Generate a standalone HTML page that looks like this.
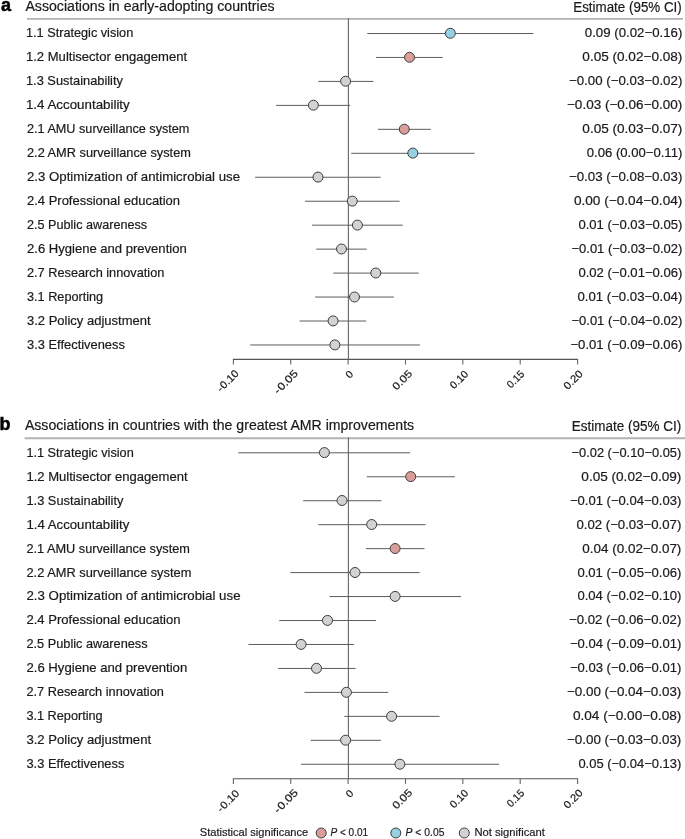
<!DOCTYPE html>
<html><head><meta charset="utf-8"><style>
html,body{margin:0;padding:0;background:#fff;}
body{width:685px;height:839px;overflow:hidden;}
svg{display:block;will-change:transform;}
text{font-family:"Liberation Sans",sans-serif;fill:#1a1a1a;stroke:#1a1a1a;stroke-width:0.2px;}
.pl{font-size:18px;font-weight:bold;fill:#000;stroke:#000;stroke-width:0.5px;}
.ti{font-size:14px;}
.es{font-size:14px;}
.rl{font-size:12.7px;}
.tk{font-size:10.5px;}
.lg{font-size:11.4px;}
</style></head><body>
<svg width="685" height="839" viewBox="0 0 685 839">
<text x="1.0" y="10.9" class="pl">a</text>
<text id="atitle" x="25.40" y="11.0" class="ti" textLength="249.21" lengthAdjust="spacingAndGlyphs">Associations in early-adopting countries</text>
<text id="aest" x="573.24" y="11.7" class="es" textLength="108.54" lengthAdjust="spacingAndGlyphs">Estimate (95% CI)</text>
<line x1="27.0" y1="18.9" x2="683.0" y2="18.9" stroke="#b2b2b2" stroke-width="1.9"/>
<line x1="348.4" y1="18.3" x2="348.4" y2="359.4" stroke="#666" stroke-width="1.1"/>
<line x1="232.9" y1="359.4" x2="578.1" y2="359.4" stroke="#555" stroke-width="1.1"/>
<line x1="233.4" y1="359.4" x2="233.4" y2="364.6" stroke="#666" stroke-width="1.1"/>
<text id="atk0" class="tk" text-anchor="end" textLength="26.13" lengthAdjust="spacingAndGlyphs" transform="translate(239.37,374.20) rotate(-45)"><tspan>-</tspan><tspan dx="0.8">0.10</tspan></text>
<line x1="290.7" y1="359.4" x2="290.7" y2="364.6" stroke="#666" stroke-width="1.1"/>
<text id="atk1" class="tk" text-anchor="end" textLength="29.11" lengthAdjust="spacingAndGlyphs" transform="translate(298.58,374.25) rotate(-45)"><tspan>-</tspan><tspan dx="0.8">0.05</tspan></text>
<line x1="348.1" y1="359.4" x2="348.1" y2="364.6" stroke="#666" stroke-width="1.1"/>
<text id="atk2" class="tk" text-anchor="end" textLength="5.84" lengthAdjust="spacingAndGlyphs" transform="translate(353.75,374.85) rotate(-45)">0</text>
<line x1="405.5" y1="359.4" x2="405.5" y2="364.6" stroke="#666" stroke-width="1.1"/>
<text id="atk3" class="tk" text-anchor="end" textLength="23.30" lengthAdjust="spacingAndGlyphs" transform="translate(412.92,374.25) rotate(-45)">0.05</text>
<line x1="462.8" y1="359.4" x2="462.8" y2="364.6" stroke="#666" stroke-width="1.1"/>
<text id="atk4" class="tk" text-anchor="end" textLength="21.01" lengthAdjust="spacingAndGlyphs" transform="translate(468.88,374.65) rotate(-45)">0.10</text>
<line x1="520.2" y1="359.4" x2="520.2" y2="364.6" stroke="#666" stroke-width="1.1"/>
<text id="atk5" class="tk" text-anchor="end" textLength="19.82" lengthAdjust="spacingAndGlyphs" transform="translate(525.10,374.70) rotate(-45)">0.15</text>
<line x1="577.6" y1="359.4" x2="577.6" y2="364.6" stroke="#666" stroke-width="1.1"/>
<text id="atk6" class="tk" text-anchor="end" textLength="22.23" lengthAdjust="spacingAndGlyphs" transform="translate(583.46,374.50) rotate(-45)">0.20</text>
<text id="alab0" x="26.00" y="37.3" class="rl" textLength="107.21" lengthAdjust="spacingAndGlyphs">1.1 Strategic vision</text>
<text id="anum0" x="584.84" y="37.3" class="rl" textLength="97.50" lengthAdjust="spacingAndGlyphs">0.09 (0.02−0.16)</text>
<line x1="367.3" y1="33.50" x2="533.4" y2="33.50" stroke="#5c5c5c" stroke-width="1.0"/>
<circle cx="450.3" cy="33.3" r="5.0" fill="#96d0e1" stroke="#3c3c3c" stroke-width="1"/>
<text id="alab1" x="25.97" y="61.3" class="rl" textLength="161.10" lengthAdjust="spacingAndGlyphs">1.2 Multisector engagement</text>
<text id="anum1" x="582.34" y="61.3" class="rl" textLength="100.01" lengthAdjust="spacingAndGlyphs">0.05 (0.02−0.08)</text>
<line x1="376.0" y1="57.46" x2="442.7" y2="57.46" stroke="#5c5c5c" stroke-width="1.0"/>
<circle cx="409.5" cy="57.3" r="5.0" fill="#da9e9a" stroke="#3c3c3c" stroke-width="1"/>
<text id="alab2" x="25.99" y="85.2" class="rl" textLength="96.93" lengthAdjust="spacingAndGlyphs">1.3 Sustainability</text>
<text id="anum2" x="568.98" y="85.2" class="rl" textLength="113.36" lengthAdjust="spacingAndGlyphs">−0.00 (−0.03−0.02)</text>
<line x1="318.3" y1="81.42" x2="373.4" y2="81.42" stroke="#5c5c5c" stroke-width="1.0"/>
<circle cx="345.6" cy="81.2" r="5.0" fill="#d2d2d2" stroke="#3c3c3c" stroke-width="1"/>
<text id="alab3" x="25.95" y="109.2" class="rl" textLength="103.79" lengthAdjust="spacingAndGlyphs">1.4 Accountability</text>
<text id="anum3" x="566.97" y="109.2" class="rl" textLength="115.38" lengthAdjust="spacingAndGlyphs">−0.03 (−0.06−0.00)</text>
<line x1="276.1" y1="105.38" x2="350.2" y2="105.38" stroke="#5c5c5c" stroke-width="1.0"/>
<circle cx="313.4" cy="105.2" r="5.0" fill="#d2d2d2" stroke="#3c3c3c" stroke-width="1"/>
<text id="alab4" x="27.00" y="133.2" class="rl" textLength="162.39" lengthAdjust="spacingAndGlyphs">2.1 AMU surveillance system</text>
<text id="anum4" x="582.34" y="133.2" class="rl" textLength="100.01" lengthAdjust="spacingAndGlyphs">0.05 (0.03−0.07)</text>
<line x1="378.0" y1="129.34" x2="430.9" y2="129.34" stroke="#5c5c5c" stroke-width="1.0"/>
<circle cx="404.3" cy="129.2" r="5.0" fill="#da9e9a" stroke="#3c3c3c" stroke-width="1"/>
<text id="alab5" x="27.00" y="157.1" class="rl" textLength="163.90" lengthAdjust="spacingAndGlyphs">2.2 AMR surveillance system</text>
<text id="anum5" x="586.78" y="157.1" class="rl" textLength="95.55" lengthAdjust="spacingAndGlyphs">0.06 (0.00−0.11)</text>
<line x1="351.2" y1="153.30" x2="474.6" y2="153.30" stroke="#5c5c5c" stroke-width="1.0"/>
<circle cx="412.8" cy="153.1" r="5.0" fill="#96d0e1" stroke="#3c3c3c" stroke-width="1"/>
<text id="alab6" x="27.00" y="181.1" class="rl" textLength="213.04" lengthAdjust="spacingAndGlyphs">2.3 Optimization of antimicrobial use</text>
<text id="anum6" x="568.98" y="181.1" class="rl" textLength="113.36" lengthAdjust="spacingAndGlyphs">−0.03 (−0.08−0.03)</text>
<line x1="255.1" y1="177.26" x2="380.6" y2="177.26" stroke="#5c5c5c" stroke-width="1.0"/>
<circle cx="318.0" cy="177.1" r="5.0" fill="#d2d2d2" stroke="#3c3c3c" stroke-width="1"/>
<text id="alab7" x="27.00" y="205.1" class="rl" textLength="153.05" lengthAdjust="spacingAndGlyphs">2.4 Professional education</text>
<text id="anum7" x="573.92" y="205.1" class="rl" textLength="108.44" lengthAdjust="spacingAndGlyphs">0.00 (−0.04−0.04)</text>
<line x1="305.0" y1="201.22" x2="399.6" y2="201.22" stroke="#5c5c5c" stroke-width="1.0"/>
<circle cx="352.3" cy="201.1" r="5.0" fill="#d2d2d2" stroke="#3c3c3c" stroke-width="1"/>
<text id="alab8" x="27.00" y="229.1" class="rl" textLength="120.11" lengthAdjust="spacingAndGlyphs">2.5 Public awareness</text>
<text id="anum8" x="578.42" y="229.1" class="rl" textLength="103.91" lengthAdjust="spacingAndGlyphs">0.01 (−0.03−0.05)</text>
<line x1="312.1" y1="225.18" x2="402.8" y2="225.18" stroke="#5c5c5c" stroke-width="1.0"/>
<circle cx="357.4" cy="225.1" r="5.0" fill="#d2d2d2" stroke="#3c3c3c" stroke-width="1"/>
<text id="alab9" x="27.00" y="253.0" class="rl" textLength="159.69" lengthAdjust="spacingAndGlyphs">2.6 Hygiene and prevention</text>
<text id="anum9" x="571.49" y="253.0" class="rl" textLength="110.83" lengthAdjust="spacingAndGlyphs">−0.01 (−0.03−0.02)</text>
<line x1="316.2" y1="249.14" x2="366.8" y2="249.14" stroke="#5c5c5c" stroke-width="1.0"/>
<circle cx="341.5" cy="249.0" r="5.0" fill="#d2d2d2" stroke="#3c3c3c" stroke-width="1"/>
<text id="alab10" x="27.00" y="277.0" class="rl" textLength="137.35" lengthAdjust="spacingAndGlyphs">2.7 Research innovation</text>
<text id="anum10" x="578.42" y="277.0" class="rl" textLength="103.91" lengthAdjust="spacingAndGlyphs">0.02 (−0.01−0.06)</text>
<line x1="333.3" y1="273.10" x2="418.7" y2="273.10" stroke="#5c5c5c" stroke-width="1.0"/>
<circle cx="375.8" cy="273.0" r="5.0" fill="#d2d2d2" stroke="#3c3c3c" stroke-width="1"/>
<text id="alab11" x="27.00" y="301.0" class="rl" textLength="76.19" lengthAdjust="spacingAndGlyphs">3.1 Reporting</text>
<text id="anum11" x="577.42" y="301.0" class="rl" textLength="104.91" lengthAdjust="spacingAndGlyphs">0.01 (−0.03−0.04)</text>
<line x1="315.2" y1="297.06" x2="393.9" y2="297.06" stroke="#5c5c5c" stroke-width="1.0"/>
<circle cx="354.5" cy="297.0" r="5.0" fill="#d2d2d2" stroke="#3c3c3c" stroke-width="1"/>
<text id="alab12" x="27.00" y="324.9" class="rl" textLength="123.59" lengthAdjust="spacingAndGlyphs">3.2 Policy adjustment</text>
<text id="anum12" x="571.49" y="324.9" class="rl" textLength="110.83" lengthAdjust="spacingAndGlyphs">−0.01 (−0.04−0.02)</text>
<line x1="299.6" y1="321.02" x2="366.1" y2="321.02" stroke="#5c5c5c" stroke-width="1.0"/>
<circle cx="333.1" cy="320.9" r="5.0" fill="#d2d2d2" stroke="#3c3c3c" stroke-width="1"/>
<text id="alab13" x="27.00" y="348.9" class="rl" textLength="97.90" lengthAdjust="spacingAndGlyphs">3.3 Effectiveness</text>
<text id="anum13" x="570.48" y="348.9" class="rl" textLength="111.84" lengthAdjust="spacingAndGlyphs">−0.01 (−0.09−0.06)</text>
<line x1="250.3" y1="344.98" x2="419.9" y2="344.98" stroke="#5c5c5c" stroke-width="1.0"/>
<circle cx="334.9" cy="344.9" r="5.0" fill="#d2d2d2" stroke="#3c3c3c" stroke-width="1"/>
<text x="-0.6" y="429.6" class="pl">b</text>
<text id="btitle" x="24.90" y="430.3" class="ti" textLength="389.24" lengthAdjust="spacingAndGlyphs">Associations in countries with the greatest AMR improvements</text>
<text id="best" x="571.73" y="431.0" class="es" textLength="109.54" lengthAdjust="spacingAndGlyphs">Estimate (95% CI)</text>
<line x1="24.6" y1="438.2" x2="685.5" y2="438.2" stroke="#b2b2b2" stroke-width="1.9"/>
<line x1="348.4" y1="437.6" x2="348.4" y2="778.7" stroke="#666" stroke-width="1.1"/>
<line x1="232.9" y1="778.7" x2="578.1" y2="778.7" stroke="#555" stroke-width="1.1"/>
<line x1="233.4" y1="778.7" x2="233.4" y2="783.9" stroke="#666" stroke-width="1.1"/>
<text id="btk0" class="tk" text-anchor="end" textLength="26.98" lengthAdjust="spacingAndGlyphs" transform="translate(240.12,794.05) rotate(-45)"><tspan>-</tspan><tspan dx="0.8">0.10</tspan></text>
<line x1="290.7" y1="778.7" x2="290.7" y2="783.9" stroke="#666" stroke-width="1.1"/>
<text id="btk1" class="tk" text-anchor="end" textLength="29.18" lengthAdjust="spacingAndGlyphs" transform="translate(298.58,793.35) rotate(-45)"><tspan>-</tspan><tspan dx="0.8">0.05</tspan></text>
<line x1="348.1" y1="778.7" x2="348.1" y2="783.9" stroke="#666" stroke-width="1.1"/>
<text id="btk2" class="tk" text-anchor="end" textLength="5.84" lengthAdjust="spacingAndGlyphs" transform="translate(354.00,794.20) rotate(-45)">0</text>
<line x1="405.5" y1="778.7" x2="405.5" y2="783.9" stroke="#666" stroke-width="1.1"/>
<text id="btk3" class="tk" text-anchor="end" textLength="23.30" lengthAdjust="spacingAndGlyphs" transform="translate(412.92,793.35) rotate(-45)">0.05</text>
<line x1="462.8" y1="778.7" x2="462.8" y2="783.9" stroke="#666" stroke-width="1.1"/>
<text id="btk4" class="tk" text-anchor="end" textLength="21.05" lengthAdjust="spacingAndGlyphs" transform="translate(468.88,793.75) rotate(-45)">0.10</text>
<line x1="520.2" y1="778.7" x2="520.2" y2="783.9" stroke="#666" stroke-width="1.1"/>
<text id="btk5" class="tk" text-anchor="end" textLength="19.82" lengthAdjust="spacingAndGlyphs" transform="translate(525.10,793.80) rotate(-45)">0.15</text>
<line x1="577.6" y1="778.7" x2="577.6" y2="783.9" stroke="#666" stroke-width="1.1"/>
<text id="btk6" class="tk" text-anchor="end" textLength="22.13" lengthAdjust="spacingAndGlyphs" transform="translate(583.46,793.60) rotate(-45)">0.20</text>
<text id="blab0" x="26.45" y="456.6" class="rl" textLength="107.26" lengthAdjust="spacingAndGlyphs">1.1 Strategic vision</text>
<text id="bnum0" x="571.49" y="456.6" class="rl" textLength="109.82" lengthAdjust="spacingAndGlyphs">−0.02 (−0.10−0.05)</text>
<line x1="238.3" y1="452.80" x2="410.2" y2="452.80" stroke="#5c5c5c" stroke-width="1.0"/>
<circle cx="324.4" cy="452.6" r="5.0" fill="#d2d2d2" stroke="#3c3c3c" stroke-width="1"/>
<text id="blab1" x="26.42" y="480.6" class="rl" textLength="161.15" lengthAdjust="spacingAndGlyphs">1.2 Multisector engagement</text>
<text id="bnum1" x="581.35" y="480.6" class="rl" textLength="100.01" lengthAdjust="spacingAndGlyphs">0.05 (0.02−0.09)</text>
<line x1="366.8" y1="476.76" x2="454.9" y2="476.76" stroke="#5c5c5c" stroke-width="1.0"/>
<circle cx="410.7" cy="476.6" r="5.0" fill="#da9e9a" stroke="#3c3c3c" stroke-width="1"/>
<text id="blab2" x="26.44" y="504.5" class="rl" textLength="96.99" lengthAdjust="spacingAndGlyphs">1.3 Sustainability</text>
<text id="bnum2" x="569.99" y="504.5" class="rl" textLength="111.34" lengthAdjust="spacingAndGlyphs">−0.01 (−0.04−0.03)</text>
<line x1="303.2" y1="500.72" x2="381.4" y2="500.72" stroke="#5c5c5c" stroke-width="1.0"/>
<circle cx="342.0" cy="500.5" r="5.0" fill="#d2d2d2" stroke="#3c3c3c" stroke-width="1"/>
<text id="blab3" x="26.41" y="528.5" class="rl" textLength="102.84" lengthAdjust="spacingAndGlyphs">1.4 Accountability</text>
<text id="bnum3" x="576.42" y="528.5" class="rl" textLength="104.91" lengthAdjust="spacingAndGlyphs">0.02 (−0.03−0.07)</text>
<line x1="318.3" y1="524.68" x2="425.5" y2="524.68" stroke="#5c5c5c" stroke-width="1.0"/>
<circle cx="371.7" cy="524.5" r="5.0" fill="#d2d2d2" stroke="#3c3c3c" stroke-width="1"/>
<text id="blab4" x="26.45" y="552.5" class="rl" textLength="163.45" lengthAdjust="spacingAndGlyphs">2.1 AMU surveillance system</text>
<text id="bnum4" x="582.35" y="552.5" class="rl" textLength="99.00" lengthAdjust="spacingAndGlyphs">0.04 (0.02−0.07)</text>
<line x1="365.8" y1="548.64" x2="424.5" y2="548.64" stroke="#5c5c5c" stroke-width="1.0"/>
<circle cx="395.1" cy="548.5" r="5.0" fill="#da9e9a" stroke="#3c3c3c" stroke-width="1"/>
<text id="blab5" x="26.45" y="576.5" class="rl" textLength="164.95" lengthAdjust="spacingAndGlyphs">2.2 AMR surveillance system</text>
<text id="bnum5" x="577.42" y="576.5" class="rl" textLength="103.91" lengthAdjust="spacingAndGlyphs">0.01 (−0.05−0.06)</text>
<line x1="290.4" y1="572.60" x2="419.6" y2="572.60" stroke="#5c5c5c" stroke-width="1.0"/>
<circle cx="355.0" cy="572.5" r="5.0" fill="#d2d2d2" stroke="#3c3c3c" stroke-width="1"/>
<text id="blab6" x="26.45" y="600.4" class="rl" textLength="214.09" lengthAdjust="spacingAndGlyphs">2.3 Optimization of antimicrobial use</text>
<text id="bnum6" x="577.42" y="600.4" class="rl" textLength="103.91" lengthAdjust="spacingAndGlyphs">0.04 (−0.02−0.10)</text>
<line x1="329.5" y1="596.56" x2="461.0" y2="596.56" stroke="#5c5c5c" stroke-width="1.0"/>
<circle cx="395.1" cy="596.4" r="5.0" fill="#d2d2d2" stroke="#3c3c3c" stroke-width="1"/>
<text id="blab7" x="26.44" y="624.4" class="rl" textLength="154.11" lengthAdjust="spacingAndGlyphs">2.4 Professional education</text>
<text id="bnum7" x="568.98" y="624.4" class="rl" textLength="112.35" lengthAdjust="spacingAndGlyphs">−0.02 (−0.06−0.02)</text>
<line x1="279.2" y1="620.52" x2="376.0" y2="620.52" stroke="#5c5c5c" stroke-width="1.0"/>
<circle cx="327.5" cy="620.4" r="5.0" fill="#d2d2d2" stroke="#3c3c3c" stroke-width="1"/>
<text id="blab8" x="26.44" y="648.4" class="rl" textLength="121.17" lengthAdjust="spacingAndGlyphs">2.5 Public awareness</text>
<text id="bnum8" x="569.99" y="648.4" class="rl" textLength="111.34" lengthAdjust="spacingAndGlyphs">−0.04 (−0.09−0.01)</text>
<line x1="248.5" y1="644.48" x2="354.0" y2="644.48" stroke="#5c5c5c" stroke-width="1.0"/>
<circle cx="301.1" cy="644.4" r="5.0" fill="#d2d2d2" stroke="#3c3c3c" stroke-width="1"/>
<text id="blab9" x="26.45" y="672.3" class="rl" textLength="160.76" lengthAdjust="spacingAndGlyphs">2.6 Hygiene and prevention</text>
<text id="bnum9" x="569.99" y="672.3" class="rl" textLength="111.34" lengthAdjust="spacingAndGlyphs">−0.03 (−0.06−0.01)</text>
<line x1="278.1" y1="668.44" x2="355.6" y2="668.44" stroke="#5c5c5c" stroke-width="1.0"/>
<circle cx="316.5" cy="668.3" r="5.0" fill="#d2d2d2" stroke="#3c3c3c" stroke-width="1"/>
<text id="blab10" x="26.45" y="696.3" class="rl" textLength="137.40" lengthAdjust="spacingAndGlyphs">2.7 Research innovation</text>
<text id="bnum10" x="566.97" y="696.3" class="rl" textLength="114.37" lengthAdjust="spacingAndGlyphs">−0.00 (−0.04−0.03)</text>
<line x1="304.5" y1="692.40" x2="388.3" y2="692.40" stroke="#5c5c5c" stroke-width="1.0"/>
<circle cx="346.4" cy="692.3" r="5.0" fill="#d2d2d2" stroke="#3c3c3c" stroke-width="1"/>
<text id="blab11" x="26.45" y="720.3" class="rl" textLength="76.25" lengthAdjust="spacingAndGlyphs">3.1 Reporting</text>
<text id="bnum11" x="572.92" y="720.3" class="rl" textLength="108.44" lengthAdjust="spacingAndGlyphs">0.04 (−0.00−0.08)</text>
<line x1="344.3" y1="716.36" x2="439.5" y2="716.36" stroke="#5c5c5c" stroke-width="1.0"/>
<circle cx="391.6" cy="716.3" r="5.0" fill="#d2d2d2" stroke="#3c3c3c" stroke-width="1"/>
<text id="blab12" x="26.44" y="744.2" class="rl" textLength="124.64" lengthAdjust="spacingAndGlyphs">3.2 Policy adjustment</text>
<text id="bnum12" x="566.97" y="744.2" class="rl" textLength="114.37" lengthAdjust="spacingAndGlyphs">−0.00 (−0.03−0.03)</text>
<line x1="310.6" y1="740.32" x2="380.9" y2="740.32" stroke="#5c5c5c" stroke-width="1.0"/>
<circle cx="345.6" cy="740.2" r="5.0" fill="#d2d2d2" stroke="#3c3c3c" stroke-width="1"/>
<text id="blab13" x="26.45" y="768.2" class="rl" textLength="97.95" lengthAdjust="spacingAndGlyphs">3.3 Effectiveness</text>
<text id="bnum13" x="578.42" y="768.2" class="rl" textLength="102.90" lengthAdjust="spacingAndGlyphs">0.05 (−0.04−0.13)</text>
<line x1="301.1" y1="764.28" x2="499.1" y2="764.28" stroke="#5c5c5c" stroke-width="1.0"/>
<circle cx="399.9" cy="764.2" r="5.0" fill="#d2d2d2" stroke="#3c3c3c" stroke-width="1"/>
<text id="lg0" x="199.82" y="836.1" class="lg" textLength="108.43" lengthAdjust="spacingAndGlyphs">Statistical significance</text>
<circle cx="321.2" cy="833.0" r="5.0" fill="#da9e9a" stroke="#3c3c3c" stroke-width="1"/>
<text id="lg1" x="330.41" y="836.1" class="lg" textLength="37.69" lengthAdjust="spacingAndGlyphs"><tspan font-style="italic">P</tspan> &lt; 0.01</text>
<circle cx="395.8" cy="833.0" r="5.0" fill="#96d0e1" stroke="#3c3c3c" stroke-width="1"/>
<text id="lg2" x="405.58" y="836.1" class="lg" textLength="38.82" lengthAdjust="spacingAndGlyphs"><tspan font-style="italic">P</tspan> &lt; 0.05</text>
<circle cx="464.3" cy="833.0" r="5.0" fill="#d2d2d2" stroke="#3c3c3c" stroke-width="1"/>
<text id="lg3" x="474.40" y="836.1" class="lg" textLength="70.56" lengthAdjust="spacingAndGlyphs">Not significant</text>
</svg>
</body></html>
